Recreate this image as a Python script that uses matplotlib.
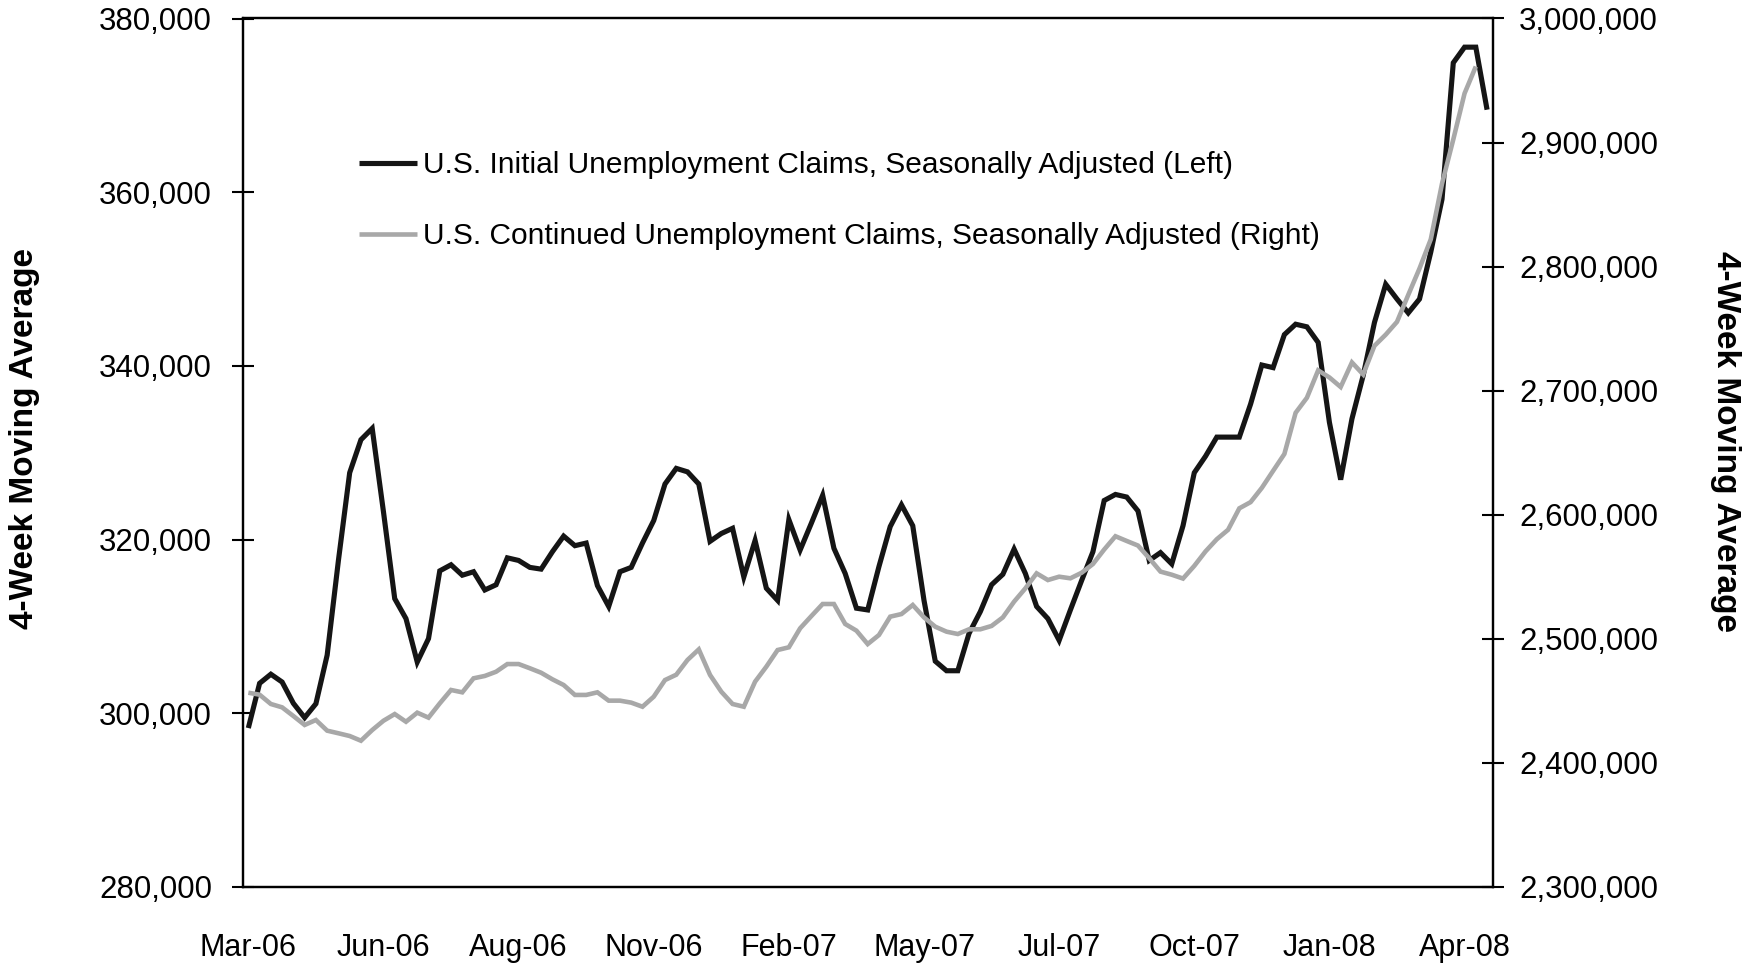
import matplotlib
matplotlib.use("Agg")
import matplotlib.pyplot as plt
from matplotlib.ticker import FuncFormatter, FixedLocator

plt.rcParams['font.family'] = ['Liberation Sans', 'DejaVu Sans']

# Weekly 4-week moving averages, week ending 2006-03-11 onward
initial_claims = [
    298300, 303450, 304500, 303600, 301150, 299500, 301100, 306700, 317600, 327700,
    331500, 332800, 323200, 313200, 310900, 305900, 308600, 316400, 317100, 315900,
    316300, 314200, 314800, 317900, 317600, 316800, 316600, 318600, 320400, 319300,
    319600, 314700, 312300, 316300, 316800, 319600, 322200, 326400, 328200, 327800,
    326400, 319800, 320700, 321300, 315700, 319900, 314400, 313000, 322300, 318800,
    321900, 325100, 319000, 316100, 312100, 311900, 316900, 321500, 324000, 321600,
    313000, 306000, 304900, 304900, 309200, 311700, 314800, 316000, 318900, 316100,
    312300, 310900, 308400, 311900, 315300, 318600, 324500, 325200, 324900, 323300,
    317600, 318500, 317200, 321600, 327700, 329600, 331800, 331800, 331800, 335600,
    340100, 339800, 343600, 344800, 344500, 342700, 333500, 326900, 333900, 338900,
    345000, 349400, 347700, 346100, 347700, 353100, 359200, 374900, 376700, 376700,
    369500,
]

continued_claims = [
    2456600, 2455000, 2447500, 2444800, 2437800, 2430600, 2434600, 2426000, 2423900, 2421700,
    2417900, 2426500, 2434000, 2439400, 2433200, 2440500, 2436500, 2448000, 2458800, 2456900,
    2468200, 2470100, 2473500, 2479700, 2479700, 2476300, 2472700, 2467400, 2462800, 2454800,
    2454800, 2456900, 2450200, 2450200, 2448600, 2445300, 2453400, 2466800, 2471100, 2483000,
    2491500, 2470900, 2457400, 2447500, 2445300, 2465500, 2477600, 2491000, 2493200, 2508500,
    2518400, 2528100, 2528100, 2512000, 2506600, 2495800, 2503100, 2517900, 2520000, 2527300,
    2517300, 2509800, 2505800, 2503900, 2507700, 2507700, 2510400, 2517300, 2530000, 2540700,
    2552800, 2547400, 2550100, 2548800, 2553300, 2560300, 2572000, 2582700, 2578900, 2575200,
    2565000, 2554200, 2551700, 2548600, 2558800, 2570500, 2580300, 2587900, 2605200, 2610200,
    2621700, 2635400, 2649000, 2682200, 2694300, 2716400, 2710700, 2703000, 2722800, 2713100,
    2736200, 2745200, 2755500, 2777200, 2798500, 2822000, 2866900, 2902500, 2939600, 2961300,
]

x_tick_labels = ["Mar-06", "Jun-06", "Aug-06", "Nov-06", "Feb-07",
                 "May-07", "Jul-07", "Oct-07", "Jan-08", "Apr-08"]
label_every = 12  # weeks between category labels

left_ticks = [280000, 300000, 320000, 340000, 360000, 380000]
right_ticks = [2300000, 2400000, 2500000, 2600000, 2700000, 2800000, 2900000, 3000000]

series_labels = ["U.S. Initial Unemployment Claims, Seasonally Adjusted (Left)",
                 "U.S. Continued Unemployment Claims, Seasonally Adjusted (Right)"]
axis_title = "4-Week Moving Average"

BLACK = "#151515"
GRAY = "#a8a8a8"

W, H = 1746, 964
fig = plt.figure(figsize=(W / 100, H / 100), dpi=100)
fig.patch.set_facecolor("white")

left_px, right_px, top_px, bottom_px = 242.7, 1492.7, 18.5, 887.0
ax = fig.add_axes([left_px / W, 1 - bottom_px / H,
                   (right_px - left_px) / W, (bottom_px - top_px) / H])
ax2 = ax.twinx()

n = len(initial_claims)
x1 = list(range(n))
x2 = list(range(len(continued_claims)))

l1, = ax.plot(x1, initial_claims, color=BLACK, lw=3.7, solid_joinstyle='miter',
              solid_capstyle='butt', zorder=3)
l2, = ax2.plot(x2, continued_claims, color=GRAY, lw=3.3, solid_joinstyle='miter',
               solid_capstyle='butt', zorder=3)

ax.set_xlim(-0.5, n - 0.5)
ax.set_ylim(left_ticks[0], left_ticks[-1])
ax2.set_ylim(right_ticks[0], right_ticks[-1])

fmt = FuncFormatter(lambda v, p: f"{int(round(v)):,}")
ax.yaxis.set_major_locator(FixedLocator(left_ticks))
ax2.yaxis.set_major_locator(FixedLocator(right_ticks))
ax.yaxis.set_major_formatter(fmt)
ax2.yaxis.set_major_formatter(fmt)

ax.set_xticks([i * label_every for i in range(len(x_tick_labels))])
ax.set_xticklabels(x_tick_labels)
ax.tick_params(axis='x', length=0, pad=33, labelsize=22)
ax.tick_params(axis='y', direction='inout', length=16, width=1.5, pad=14, labelsize=22.5)
ax2.tick_params(axis='y', direction='inout', length=16, width=1.5, pad=11, labelsize=22.5)

for a in (ax, ax2):
    for s in a.spines.values():
        s.set_linewidth(1.6)
        s.set_color("black")

fig.text(24.5 / W, 1 - 439 / H, axis_title, rotation=90, ha='center', va='center',
         fontsize=24, fontweight='bold')
fig.text(1726 / W, 1 - 442 / H, axis_title, rotation=270, ha='center', va='center',
         fontsize=24, fontweight='bold')

leg = ax2.legend([l1, l2], series_labels, loc='upper left',
                 bbox_to_anchor=(358.5 / W, 1 - 151 / H), bbox_transform=fig.transFigure,
                 frameon=False, fontsize=21.5, handlelength=1.95, handletextpad=0.2,
                 labelspacing=1.45, borderpad=0, borderaxespad=0)

fig.savefig("out.png", dpi=100, facecolor="white")
